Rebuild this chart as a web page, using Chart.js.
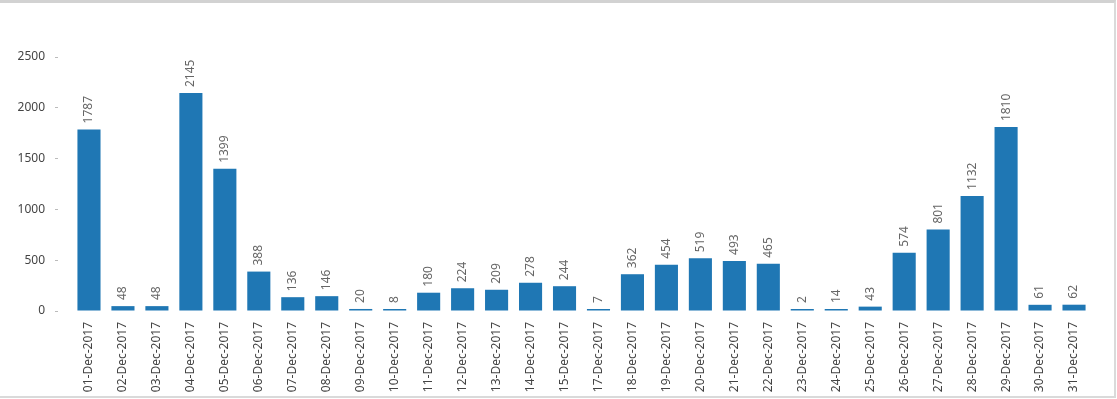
<!DOCTYPE html>
<html>
<head>
<meta charset="utf-8">
<script src="https://cdn.jsdelivr.net/npm/chart.js@4/dist/chart.umd.min.js"></script>
<style>
  html, body { margin: 0; padding: 0; background: #fff; overflow: hidden; }
  #wrap { position: absolute; left: 0; top: 0; width: 1117px; height: 399px; }
  #frame {
    position: absolute; left: -5px; top: 0; width: 1121px; height: 398px;
    box-sizing: border-box; pointer-events: none;
    border-top: 3px solid #d2d2d2; border-right: 2px solid #dadada; border-bottom: 2px solid #dadada;
  }
</style>
</head>
<body>
<div id="wrap"><canvas id="chart" width="1117" height="399"></canvas></div>
<div id="frame"></div>
<script>
var days = ['01-Dec-2017', '02-Dec-2017', '03-Dec-2017', '04-Dec-2017', '05-Dec-2017', '06-Dec-2017',
  '07-Dec-2017', '08-Dec-2017', '09-Dec-2017', '10-Dec-2017', '11-Dec-2017', '12-Dec-2017',
  '13-Dec-2017', '14-Dec-2017', '15-Dec-2017', '17-Dec-2017', '18-Dec-2017', '19-Dec-2017',
  '20-Dec-2017', '21-Dec-2017', '22-Dec-2017', '23-Dec-2017', '24-Dec-2017', '25-Dec-2017',
  '26-Dec-2017', '27-Dec-2017', '28-Dec-2017', '29-Dec-2017', '30-Dec-2017', '31-Dec-2017'];
var counts = [1787, 48, 48, 2145, 1399, 388, 136, 146, 20, 8, 180, 224, 209, 278, 244, 7,
  362, 454, 519, 493, 465, 2, 14, 43, 574, 801, 1132, 1810, 61, 62];
var yTicks = [0, 500, 1000, 1500, 2000, 2500];

var fontFamily = '"Noto Sans", "Liberation Sans", Arial, sans-serif';

// value labels written upward above each bar
var barLabels = {
  id: 'barLabels',
  afterDatasetsDraw: function(chart) {
    var c = chart.ctx;
    var meta = chart.getDatasetMeta(0);
    c.save();
    c.font = '12px ' + fontFamily;
    c.fillStyle = '#666';
    c.textAlign = 'left';
    c.textBaseline = 'middle';
    meta.data.forEach(function(bar, i) {
      c.save();
      c.translate(bar.x, bar.y - 6);
      c.rotate(-Math.PI / 2);
      c.fillText(String(counts[i]), 0, 0);
      c.restore();
    });
    c.restore();
  }
};

var ctx = document.getElementById('chart').getContext('2d');
var chart = new Chart(ctx, {
  type: 'bar',
  data: {
    labels: days,
    datasets: [{
      data: counts,
      backgroundColor: '#1f77b4',
      borderWidth: 0,
      minBarLength: 2,
      categoryPercentage: 1.0,
      barPercentage: 0.68
    }]
  },
  options: {
    responsive: false,
    animation: false,
    devicePixelRatio: 1,
    layout: { padding: { top: 57, right: 26, left: 0, bottom: 0 } },
    plugins: { legend: { display: false }, tooltip: { enabled: false } },
    scales: {
      x: {
        border: { display: false },
        grid: { display: false, drawTicks: false },
        ticks: {
          minRotation: 90, maxRotation: 90, autoSkip: false, padding: 11,
          color: '#444', font: { size: 12, family: fontFamily }
        },
        afterFit: function(axis) { axis.height = 88; }
      },
      y: {
        min: 0, max: 2500,
        border: { display: false },
        grid: {
          drawOnChartArea: false, tickLength: 17, tickColor: '#bbb',
          tickBorderDash: [3, 100]
        },
        afterBuildTicks: function(axis) { axis.ticks = yTicks.map(function(v) { return { value: v }; }); },
        ticks: {
          padding: 10, color: '#444', font: { size: 12, family: fontFamily },
          callback: function(v) { return String(v); }
        },
        afterFit: function(axis) { axis.width = 72; }
      }
    }
  },
  plugins: [barLabels]
});
</script>
</body>
</html>
